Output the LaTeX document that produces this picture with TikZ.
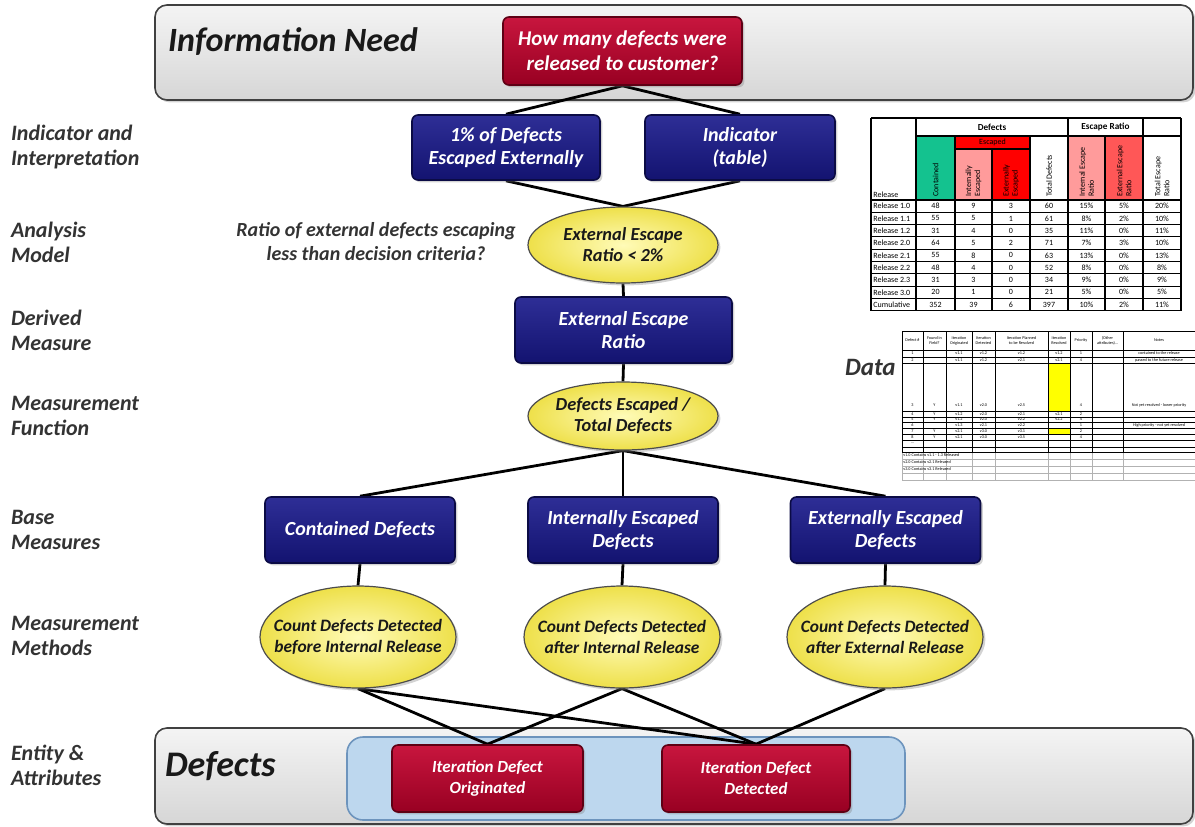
\documentclass[tikz,border=0pt]{standalone}
\usepackage{fontspec}
\setmainfont{Carlito}
\usetikzlibrary{shapes.geometric,shadows}
\pgfdeclarelayer{bg}
\pgfdeclarelayer{wires}
\pgfsetlayers{bg,wires,main}

\definecolor{navyTop}{HTML}{2E2E96}
\definecolor{navyBot}{HTML}{131370}
\definecolor{navyEdge}{HTML}{0B0B45}
\definecolor{redTop}{HTML}{C8163E}
\definecolor{redBot}{HTML}{980022}
\definecolor{redEdge}{HTML}{5E0014}
\definecolor{ovalIn}{HTML}{FFFBB8}
\definecolor{ovalOut}{HTML}{EEE04A}
\definecolor{labelGray}{HTML}{333333}
\definecolor{bandTop}{HTML}{F4F4F4}
\definecolor{bandBot}{HTML}{D6D6D6}
\definecolor{frameBlue}{HTML}{BDD7EE}
\definecolor{frameEdge}{HTML}{6D94BD}
\definecolor{tGreen}{HTML}{14C28F}
\definecolor{tPink}{HTML}{FF9B9B}
\definecolor{tRed}{HTML}{FF0000}
\definecolor{tRose}{HTML}{FF5757}
\definecolor{tYellow}{HTML}{FFFF00}

\newcommand\boxfont{\fontsize{10}{11.5}\selectfont\bfseries\itshape}
\newcommand\ovalfont{\fontsize{9.2}{10.5}\selectfont\bfseries\itshape}
\newcommand\methfont{\fontsize{8.7}{10.5}\selectfont\bfseries\itshape}
\newcommand\sidefont{\fontsize{11}{12.5}\selectfont\bfseries\itshape}
\newcommand\tblfont{\fontsize{4}{4.5}\selectfont}
\newcommand\datfont{\fontsize{2.1}{2.5}\selectfont}

\begin{document}
\begin{tikzpicture}[x=0.5pt,y=-0.5pt,
  shade/.style={drop shadow={shadow xshift=1.2pt,shadow yshift=-1.2pt,opacity=0.35}},
  box/.style={rounded corners=3pt, minimum width=95pt, minimum height=33pt,
    inner sep=1pt, align=center, font=\boxfont, text=white, line width=0.8pt, shade},
  bluebox/.style={box, top color=navyTop, bottom color=navyBot, draw=navyEdge},
  redbox/.style={box, top color=redTop, bottom color=redBot, draw=redEdge},
  oval/.style={ellipse, inner sep=-30pt, minimum width=95pt, minimum height=36pt,
    align=center, draw=black!70, line width=0.6pt, inner color=ovalIn,
    outer color=ovalOut, font=\ovalfont, text=black!90, shade},
  methoval/.style={oval, minimum width=98pt, minimum height=51pt, font=\methfont},
  wire/.style={line width=1.4pt, black},
  sidelabel/.style={anchor=west, align=left, font=\sidefont, text=labelGray},
  band/.style={rounded corners=6pt, top color=bandTop, bottom color=bandBot,
    draw=black!75, line width=0.8pt, shade},
  tline/.style={line width=0.55pt, black},
  gline/.style={line width=0.3pt, black!30},
  tcell/.style={font=\tblfont, inner sep=0pt},
  dcell/.style={font=\datfont, inner sep=0pt, align=center},
]
\useasboundingbox (0,0) rectangle (1195,826);

% ---------- level labels ----------
\node[sidelabel] (lInd) at (4,147) {Indicator and\\Interpretation};
\node[sidelabel] (lAna) at (4,242) {Analysis\\Model};
\node[sidelabel] (lDer) at (4,330) {Derived\\Measure};
\node[sidelabel] (lFun) at (4,416) {Measurement\\Function};
\node[sidelabel] (lBase) at (4,530) {Base\\Measures};
\node[sidelabel] (lMeth) at (4,636) {Measurement\\Methods};
\node[sidelabel] (lEnt) at (4,765) {Entity \&\\Attributes};

% ---------- bands ----------
\begin{pgfonlayer}{bg}
  \path[band] (155,5) rectangle (1193,100);
  \path[band] (155,728) rectangle (1193,824);
  \path[rounded corners=8pt, fill=frameBlue, draw=frameEdge, line width=0.8pt]
    (347,737) rectangle (905,820);
\end{pgfonlayer}
\node[anchor=west, font=\fontsize{17}{20}\selectfont\bfseries\itshape, text=black!90]
  (tNeed) at (161,42) {Information Need};
\node[anchor=west, font=\fontsize{18}{21}\selectfont\bfseries\itshape, text=black!90]
  (tDef) at (158,766) {Defects};

% ---------- hierarchy ----------
\node[redbox, minimum width=119.5pt, minimum height=34pt, font=\fontsize{10.5}{12.5}\selectfont\bfseries\itshape]
  (need) at (622.5,51) {How many defects were\\released to customer?};
\node[bluebox, minimum width=94pt, minimum height=32.5pt] (ind1) at (506,147.5) {1\% of Defects\\Escaped Externally};
\node[bluebox, minimum width=95pt, minimum height=32.5pt] (ind2) at (740,147.5) {Indicator\\(table)};
\node[oval, minimum height=38pt] (model) at (623,245) {External Escape\\Ratio {<} 2\%};
\node[align=center, font=\fontsize{10}{12}\selectfont\bfseries\itshape, text=labelGray]
  (question) at (376,242) {Ratio of external defects escaping\\less than decision criteria?};
\node[bluebox, minimum width=108.5pt] (derived) at (623.5,330) {External Escape\\Ratio};
\node[oval, minimum height=34pt] (func) at (623,416) {Defects Escaped /\\Total Defects};
\node[bluebox] (bm1) at (360,530) {Contained Defects};
\node[bluebox] (bm2) at (623,530) {Internally Escaped\\Defects};
\node[bluebox] (bm3) at (885.5,530) {Externally Escaped\\Defects};
\node[methoval] (mm1) at (358,637) {Count Defects Detected\\before Internal Release};
\node[methoval] (mm2) at (622,637) {Count Defects Detected\\after Internal Release};
\node[methoval] (mm3) at (885,637) {Count Defects Detected\\after External Release};
\node[redbox, minimum width=95.5pt, minimum height=33.5pt, font=\fontsize{8.5}{10.5}\selectfont\bfseries\itshape]
  (orig) at (487.5,778.5) {Iteration Defect\\Originated};
\node[redbox, minimum width=94pt, minimum height=33.5pt, font=\fontsize{8.5}{10.5}\selectfont\bfseries\itshape]
  (det) at (756,778.5) {Iteration Defect\\Detected};

\begin{pgfonlayer}{wires}
  \draw[wire] (need.south) -- (ind1.north);
  \draw[wire] (need.south) -- (ind2.north);
  \draw[wire] (ind1.south) -- (model.north);
  \draw[wire] (ind2.south) -- (model.north);
  \draw[wire] (model.south) -- (derived.north);
  \draw[wire] (derived.south) -- (func.north);
  \draw[wire] (func.south) -- (bm1.north);
  \draw[wire] (func.south) -- (bm2.north);
  \draw[wire] (func.south) -- (bm3.north);
  \draw[wire] (bm1.south) -- (mm1.north);
  \draw[wire] (bm2.south) -- (mm2.north);
  \draw[wire] (bm3.south) -- (mm3.north);
  \draw[wire] (mm1.south) -- (orig.north);
  \draw[wire] (mm1.south) -- (det.north);
  \draw[wire] (mm2.south) -- (orig.north);
  \draw[wire] (mm2.south) -- (det.north);
  \draw[wire] (mm3.south) -- (det.north);
\end{pgfonlayer}

% ---------- indicator table ----------
\fill[white] (871,118) rectangle (1181,311);
\fill[tGreen] (916,136) rectangle (955,200);
\fill[tRed] (955,136) rectangle (1030,149);
\fill[tPink] (955,149) rectangle (992,200);
\fill[tRed] (992,149) rectangle (1030,200);
\fill[tPink] (1068,136) rectangle (1105,200);
\fill[tRose] (1105,136) rectangle (1143,200);
\draw[tline] (871,118) -- (1181,118);
\draw[tline] (916,136) -- (1181,136);
\draw[tline] (955,149) -- (1030,149);
\foreach \r in {0,...,9} \draw[tline] (871,200+12.3*\r) -- (1181,200+12.3*\r);
\draw[tline] (871,118) -- (871,310.7);
\draw[tline] (916,118) -- (916,310.7);
\draw[tline] (955,136) -- (955,310.7);
\draw[tline] (992,149) -- (992,310.7);
\draw[tline] (1030,136) -- (1030,310.7);
\draw[tline] (1068,118) -- (1068,310.7);
\draw[tline] (1105,136) -- (1105,310.7);
\draw[tline] (1143,118) -- (1143,310.7);
\draw[tline] (1181,118) -- (1181,310.7);
\node[tcell, font=\fontsize{4.6}{5}\selectfont\bfseries] (hDef) at (992,127) {Defects};
\node[tcell, font=\fontsize{4.6}{5}\selectfont\bfseries] (hEsc) at (1105.5,127) {Escape Ratio};
\node[tcell] (hEscd) at (992.5,142.5) {Escaped};
\node[tcell, anchor=south west] (hRel) at (873,198) {Release};
\node[tcell, rotate=90, anchor=west] (hCon) at (935.5,197) {Contained};
\node[tcell, rotate=90, anchor=west, align=left] (hInt) at (973.5,197) {Internally\\Escaped};
\node[tcell, rotate=90, anchor=west, align=left] (hExt) at (1011,197) {Externally\\Escaped};
\node[tcell, rotate=90, anchor=west] (hTot) at (1049,197) {Total Defects};
\node[tcell, rotate=90, anchor=west, align=left] (hIer) at (1086.5,197) {Internal Escape\\Ratio};
\node[tcell, rotate=90, anchor=west, align=left] (hEer) at (1124,197) {External Escape\\Ratio};
\node[tcell, rotate=90, anchor=west, align=left] (hTer) at (1162,197) {Total Escape\\Ratio};
\foreach \n/\a/\b/\c/\d/\e/\f/\g [count=\i] in {
  Release 1.0/48/9/3/60/15\%/5\%/20\%,
  Release 1.1/55/5/1/61/8\%/2\%/10\%,
  Release 1.2/31/4/0/35/11\%/0\%/11\%,
  Release 2.0/64/5/2/71/7\%/3\%/10\%,
  Release 2.1/55/8/0/63/13\%/0\%/13\%,
  Release 2.2/48/4/0/52/8\%/0\%/8\%,
  Release 2.3/31/3/0/34/9\%/0\%/9\%,
  Release 3.0/20/1/0/21/5\%/0\%/5\%,
  Cumulative/352/39/6/397/10\%/2\%/11\%}{
  \pgfmathsetmacro\yy{200+12.3*(\i-0.5)}
  \node[tcell, anchor=west] at (873,\yy) {\n};
  \node[tcell] at (935.5,\yy) {\a};
  \node[tcell] at (973.5,\yy) {\b};
  \node[tcell] at (1011,\yy) {\c};
  \node[tcell] at (1049,\yy) {\d};
  \node[tcell] at (1086.5,\yy) {\e};
  \node[tcell] at (1124,\yy) {\f};
  \node[tcell] at (1162,\yy) {\g};
}

% ---------- defect data table ----------
\node[anchor=west, font=\fontsize{12.5}{14}\selectfont\bfseries\itshape, text=labelGray]
  (tData) at (838,367) {Data};
\fill[white] (902,331) rectangle (1195,480);
\fill[tYellow] (1048,363) rectangle (1070,411);
\fill[tYellow] (1048,428) rectangle (1070,434);
\foreach \y in {459,466,473,480} \draw[gline] (902,\y) -- (1195,\y);
\foreach \x in {902,923,946,972,995,1048,1070,1092,1123} \draw[gline] (\x,452) -- (\x,480);
\foreach \y in {331,350,357,363,411,417,422,428,434,440,447,452}
  \draw[tline, line width=0.45pt] (902,\y) -- (1195,\y);
\foreach \x in {902,923,946,972,995,1048,1070,1092,1123}
  \draw[tline, line width=0.45pt] (\x,331) -- (\x,452);
\foreach \t/\x in {Defect \#/912.5, Found in\\Field?/934.5, Iteration\\Originated/959,
  Iteration\\Detected/983.5, Iteration Planned\\to be Resolved/1021.5, Iteration\\Resolved/1059,
  Priority/1081, (Other\\attributes)\dots/1107.5, Notes/1159}
  \node[dcell] at (\x,340.5) {\t};
\foreach \a/\b/\c/\d/\e/\f/\g/\h/\y in {
  1//v1.1/v1.2/v1.2/v1.2/1/contained to the release/353.5,
  2//v1.1/v1.2/v2.1/v2.1/4/passed to the future release/360,
  3/Y/v1.1/v2.0/v2.5//4/Not yet resolved - lower priority/405,
  4/Y/v1.2/v2.0/v2.1/v2.1/2//414,
  5/Y/v1.2/v2.0/v2.2/v2.2/4//419.5,
  6//v1.3/v2.1/v2.2//1/High priority - not yet resolved/425,
  7/Y/v2.1/v3.0/v3.1//2//431,
  8/Y/v2.1/v3.0/v3.5//4//437,
  \dots////////443.5}{
  \node[dcell] at (912.5,\y) {\a};
  \node[dcell] at (934.5,\y) {\b};
  \node[dcell] at (959,\y) {\c};
  \node[dcell] at (983.5,\y) {\d};
  \node[dcell] at (1021.5,\y) {\e};
  \node[dcell] at (1081,\y) {\g};
  \node[dcell] at (1159,\y) {\h};
}
\node[dcell] at (1059,353.5) {v1.2};
\node[dcell] at (1059,360) {v2.1};
\node[dcell] at (1059,414) {v2.1};
\node[dcell] at (1059,419.5) {v2.2};
\node[dcell, anchor=west] at (903,455.5) {v1.0 Contains v1.1 - 1.3 Released};
\node[dcell, anchor=west] at (903,462.5) {v2.0 Contains v2.1 Released};
\node[dcell, anchor=west] at (903,469.5) {v3.0 Contains v3.1 Released};
\end{tikzpicture}
\end{document}
